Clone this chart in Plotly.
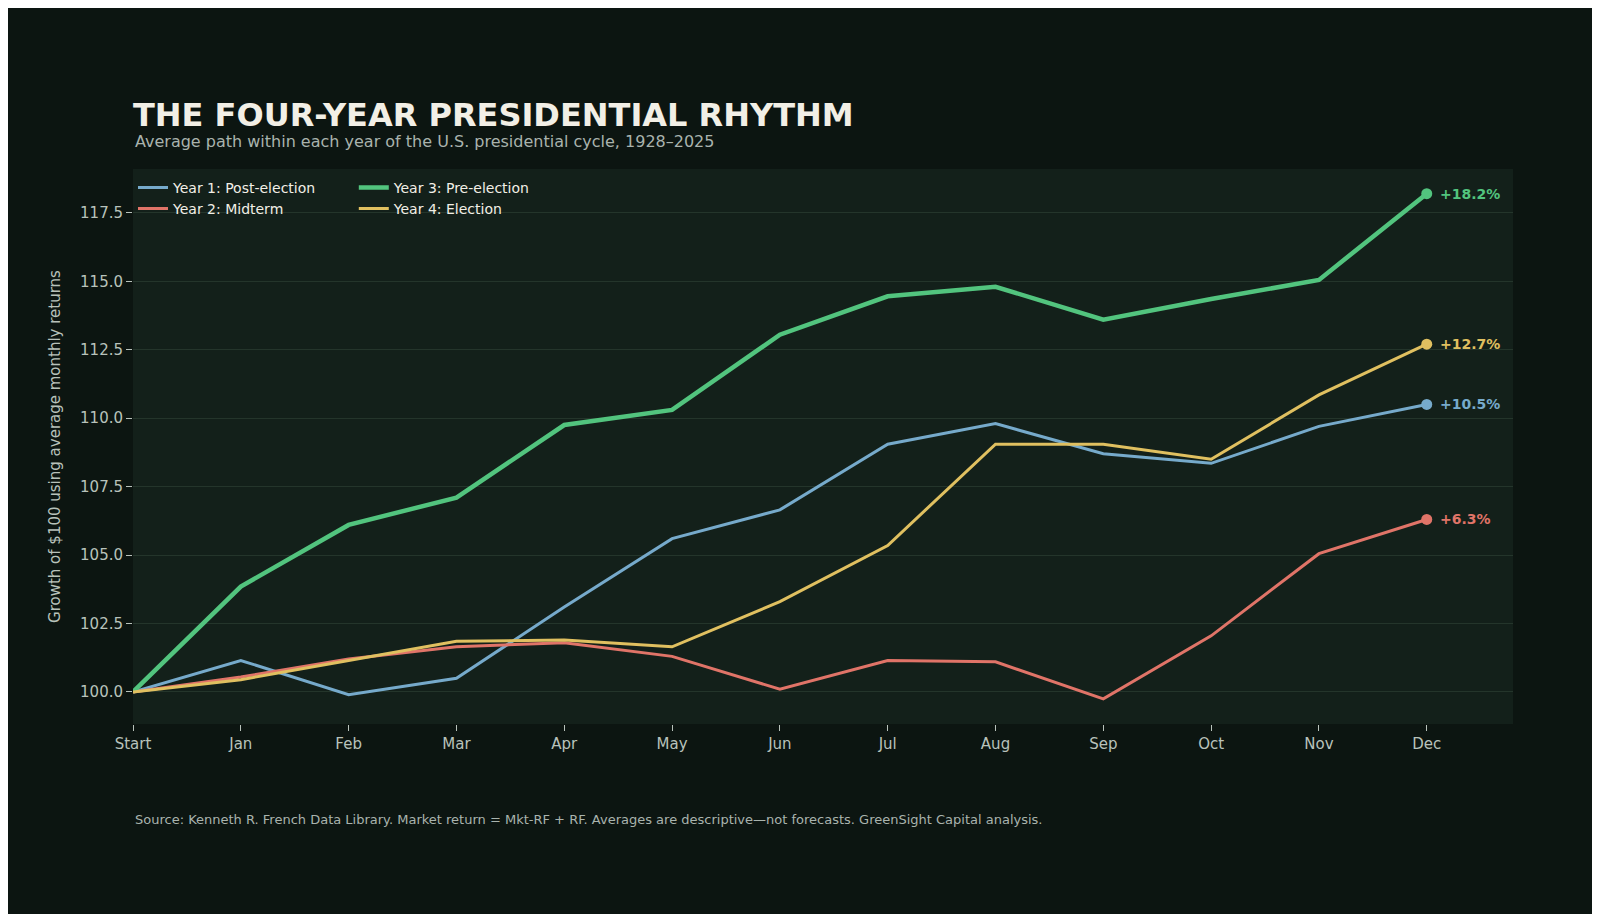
import plotly.graph_objects as go

months = ["Start", "Jan", "Feb", "Mar", "Apr", "May", "Jun", "Jul", "Aug", "Sep", "Oct", "Nov", "Dec"]
year1 = [100, 101.15, 99.9, 100.5, 103.1, 105.6, 106.65, 109.05, 109.8, 108.7, 108.35, 109.7, 110.5]
year2 = [100, 100.55, 101.2, 101.65, 101.8, 101.3, 100.1, 101.15, 101.1, 99.75, 102.05, 105.05, 106.3]
year3 = [100, 103.85, 106.1, 107.1, 109.75, 110.3, 113.05, 114.45, 114.8, 113.6, 114.35, 115.05, 118.2]
year4 = [100, 100.45, 101.15, 101.85, 101.9, 101.65, 103.3, 105.35, 109.05, 109.05, 108.5, 110.85, 112.7]
yticks = [100.0, 102.5, 105.0, 107.5, 110.0, 112.5, 115.0, 117.5]

series = [
    ("Year 1: Post-election", year1, "#76aacb", 3, "legend"),
    ("Year 2: Midterm", year2, "#e07468", 3, "legend"),
    ("Year 3: Pre-election", year3, "#52c47e", 4.5, "legend2"),
    ("Year 4: Election", year4, "#e0c060", 3, "legend2"),
]

x = list(range(len(months)))
fig = go.Figure()
for name, vals, color, width, leg in series:
    fig.add_trace(go.Scatter(x=x, y=vals, mode="lines", name=name, legend=leg,
                             line=dict(color=color, width=width)))
for name, vals, color, width, leg in series:
    fig.add_trace(go.Scatter(x=[x[-1]], y=[vals[-1]], mode="markers", showlegend=False,
                             marker=dict(color=color, size=11)))
    fig.add_annotation(x=x[-1], y=vals[-1], text=f"<b>+{vals[-1] - vals[0]:.1f}%</b>",
                       showarrow=False, xanchor="left", xshift=11,
                       font=dict(color=color, size=14))

legend_style = dict(y=0.995, xanchor="left", yanchor="top", bgcolor="rgba(0,0,0,0)",
                    font=dict(size=14, color="#f2efe6"), tracegroupgap=0, traceorder="normal")

fig.update_layout(
    width=1600, height=914,
    paper_bgcolor="#0c1511", plot_bgcolor="#13201a",
    margin=dict(l=125, r=95, t=161, b=198),
    font=dict(family="DejaVu Sans", color="#b8c2bb"),
    title=dict(text="<b>THE FOUR-YEAR PRESIDENTIAL RHYTHM</b>", x=125 / 1600, xanchor="left",
               y=1 - 107 / 914, yanchor="middle", font=dict(size=32, color="#f2efe6")),
    legend=dict(x=0.0, **legend_style),
    legend2=dict(x=0.16, **legend_style),
    xaxis=dict(range=[0, 12.8], tickvals=x, ticktext=months, showgrid=False, zeroline=False,
               ticks="outside", ticklen=6, tickcolor="#b8c2bb", tickfont=dict(size=15)),
    yaxis=dict(range=[98.83, 119.1], tickvals=yticks, tickformat=".1f", gridcolor="#24352b",
               zeroline=False, ticks="outside", ticklen=6, tickcolor="#b8c2bb",
               tickfont=dict(size=15),
               title=dict(text="Growth of $100 using average monthly returns", font=dict(size=15))),
)
fig.add_annotation(text="Average path within each year of the U.S. presidential cycle, 1928–2025",
                   xref="paper", yref="paper", x=0, y=1 + 28 / 555, xanchor="left", yanchor="middle",
                   showarrow=False, font=dict(size=16, color="#a9b3ad"))
fig.add_annotation(text="Source: Kenneth R. French Data Library. Market return = Mkt-RF + RF. "
                        "Averages are descriptive—not forecasts. GreenSight Capital analysis.",
                   xref="paper", yref="paper", x=0, y=-95 / 555, xanchor="left", yanchor="middle",
                   showarrow=False, font=dict(size=13, color="#a9b3ad"))

fig.write_html("out.html")
